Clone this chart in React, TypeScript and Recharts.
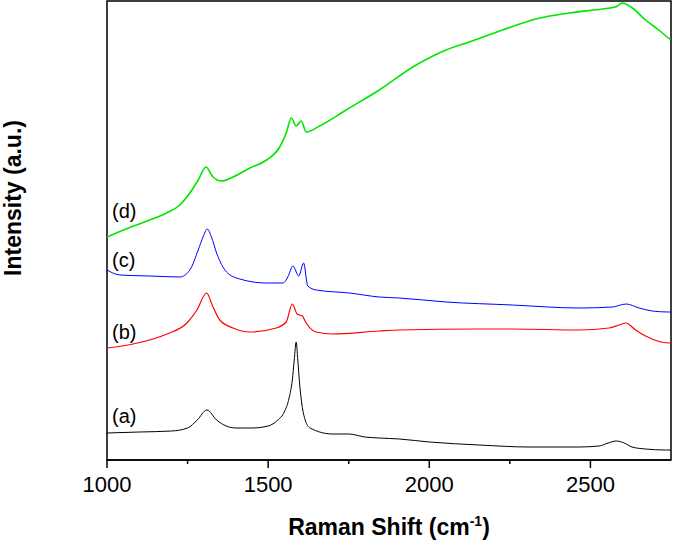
import React from "react";
import { LineChart, Line, XAxis, YAxis, ReferenceArea, Customized } from "recharts";

// Raman shift (cm-1) positions and intensities (a.u., arbitrary offset units)
const shiftA = [1000, 1100, 1200, 1250, 1280, 1310, 1340, 1370, 1400, 1450, 1500, 1530, 1550, 1565, 1575, 1581, 1587, 1592, 1598, 1605, 1615, 1630, 1700, 1750, 1800, 1845, 1907, 2000, 2155, 2310, 2464, 2527, 2555, 2580, 2605, 2629, 2671, 2733, 2750];
const intensityA = [27, 28, 29, 32, 40, 50, 40, 34, 32, 32, 34, 40, 48, 62, 80, 100, 118, 100, 75, 55, 40, 32, 26, 26, 23, 22, 21, 18, 15, 13, 13, 14, 17, 19, 17, 13, 11, 10, 10];

const shiftB = [1000, 1081, 1186, 1248, 1279, 1309, 1329, 1350, 1391, 1443, 1525, 1556, 1575, 1590, 1606, 1618, 1649, 1700, 1845, 1907, 2155, 2257, 2465, 2558, 2589, 2610, 2640, 2671, 2743, 2750];
const intensityB = [112, 116, 126, 137, 150, 167, 153, 140, 132, 128, 132, 138, 156, 146, 144, 137, 128, 126, 129, 130, 131, 131, 130, 132, 135, 137, 130, 124, 117, 117];

const shiftC = [1000, 1040, 1133, 1226, 1257, 1283, 1298, 1311, 1324, 1340, 1371, 1412, 1495, 1546, 1561, 1577, 1595, 1610, 1623, 1649, 1752, 1845, 1907, 2052, 2258, 2465, 2568, 2611, 2651, 2692, 2743, 2750];
const intensityC = [190, 185, 184, 183, 190, 210, 223, 231, 223, 207, 188, 181, 177, 177, 183, 194, 184, 197, 174, 170, 167, 163, 162, 158, 155, 152, 153, 156, 152, 149, 148, 148];

const shiftD = [1000, 1082, 1133, 1185, 1226, 1257, 1283, 1307, 1329, 1355, 1391, 1443, 1495, 1536, 1556, 1572, 1587, 1603, 1618, 1660, 1742, 1845, 1949, 2052, 2124, 2227, 2331, 2434, 2537, 2578, 2599, 2630, 2671, 2712, 2749];
const intensityD = [223, 234, 240, 247, 255, 267, 280, 293, 283, 279, 283, 292, 300, 313, 327, 342, 334, 339, 328, 334, 350, 370, 393, 410, 418, 430, 441, 447, 451, 453, 457, 452, 440, 430, 420];

const xTicks = [1000, 1250, 1500, 1750, 2000, 2250, 2500];
const majorTicks = [1000, 1500, 2000, 2500];
const curveLabels = ["(a)", "(b)", "(c)", "(d)"];

const toRows = (xs: number[], ys: number[]) => xs.map((x, i) => ({ x, y: ys[i] }));

const seriesA = toRows(shiftA, intensityA);
const seriesB = toRows(shiftB, intensityB);
const seriesC = toRows(shiftC, intensityC);
const seriesD = toRows(shiftD, intensityD);

const FONT = "Arial, 'Liberation Sans', Helvetica, sans-serif";

const Tick = (props: any) => {
  const { x, y, payload } = props;
  const major = majorTicks.includes(payload.value);
  return (
    <g>
      <line x1={x} x2={x} y1={y} y2={y + (major ? 8 : 4)} stroke="#000" strokeWidth={1.5} />
      {major && (
        <text x={x} y={y + 32} textAnchor="middle" fontFamily={FONT} fontSize={22} fill="#000">
          {payload.value}
        </text>
      )}
    </g>
  );
};

const labelPos = [
  { x: 112, y: 423 },
  { x: 112, y: 339 },
  { x: 112, y: 267 },
  { x: 112, y: 218 },
];

const Annotations = () => (
  <g>
    {curveLabels.map((t, i) => (
      <text key={t} x={labelPos[i].x} y={labelPos[i].y} fontFamily={FONT} fontSize={20} fill="#000">
        {t}
      </text>
    ))}
    <text
      x={21}
      y={198}
      transform="rotate(-90 21 198)"
      textAnchor="middle"
      fontFamily={FONT}
      fontWeight="bold"
      fontSize={23}
      fill="#000"
    >
      Intensity (a.u.)
    </text>
    <text x={389} y={535} textAnchor="middle" fontFamily={FONT} fontWeight="bold" fontSize={23} fill="#000">
      Raman Shift (cm
      <tspan dy={-9} fontSize={14}>-1</tspan>
      <tspan dy={9}>)</tspan>
    </text>
  </g>
);

export default function App() {
  return (
    <div style={{ position: "absolute", left: 0, top: 0, background: "#fff" }}>
      <LineChart width={673} height={540} margin={{ top: 1, right: 2, bottom: 50, left: 107 }}>
        <XAxis
          dataKey="x"
          type="number"
          domain={[1000, 2750]}
          ticks={xTicks}
          interval={0}
          allowDataOverflow
          height={30}
          tickSize={0}
          tickLine={false}
          tickMargin={0}
          axisLine={{ stroke: "#000", strokeWidth: 1.5 }}
          tick={<Tick />}
        />
        <YAxis hide type="number" domain={[0, 459]} allowDataOverflow />
        <ReferenceArea x1={1000} x2={2750} y1={0} y2={459} fill="none" stroke="#000" strokeWidth={1.5} ifOverflow="visible" />
        <Line data={seriesA} dataKey="y" type="monotone" stroke="#000000" strokeWidth={1} dot={false} isAnimationActive={false} />
        <Line data={seriesB} dataKey="y" type="monotone" stroke="#ff0000" strokeWidth={1.2} dot={false} isAnimationActive={false} />
        <Line data={seriesC} dataKey="y" type="monotone" stroke="#0000ff" strokeWidth={1} dot={false} isAnimationActive={false} />
        <Line data={seriesD} dataKey="y" type="monotone" stroke="#00e600" strokeWidth={1.6} dot={false} isAnimationActive={false} />
        <Customized component={Annotations} />
      </LineChart>
    </div>
  );
}
